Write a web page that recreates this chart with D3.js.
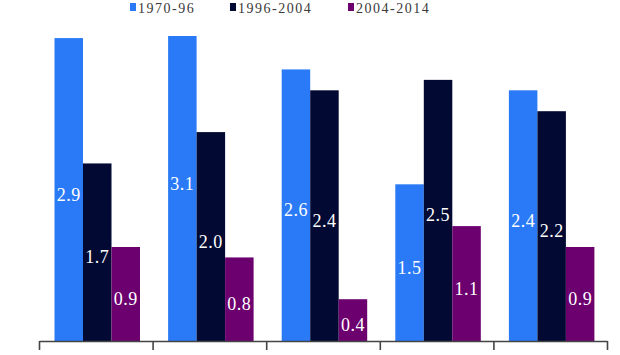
<!DOCTYPE html>
<html><head><meta charset="utf-8">
<script src="https://cdn.jsdelivr.net/npm/d3@7"></script>
<style>body{margin:0;background:#fff}svg{display:block}</style>
</head><body>
<svg id="c" width="620" height="355"></svg>
<script>
const categories = ["G1","G2","G3","G4","G5"];
const seriesNames = ["1970-96","1996-2004","2004-2014"];
const s1970_96 = [2.9, 3.1, 2.6, 1.5, 2.4];
const s1996_2004 = [1.7, 2.0, 2.4, 2.5, 2.2];
const s2004_2014 = [0.9, 0.8, 0.4, 1.1, 0.9];
const colors = ["#2a7af7", "#020a33", "#6c006f"];

const seriesVals = [s1970_96, s1996_2004, s2004_2014];
const data = categories.map((c, i) => ({cat: c, vals: seriesNames.map((s, j) => ({s, j, v: seriesVals[j][i]}))}));

const svg = d3.select("#c");
const x0 = d3.scaleBand().domain(categories).range([39, 607]).paddingInner(0).paddingOuter(0);
const x1 = d3.scaleBand().domain(seriesNames).range([15.5, 15.5 + 85.5]);
const y = d3.scaleLinear().domain([0, 2.92]).range([341, 36]).clamp(true);
const yLab = y.copy().clamp(false);

const g = svg.selectAll("g.grp").data(data).join("g")
  .attr("transform", d => `translate(${x0(d.cat)},0)`);
g.selectAll("rect").data(d => d.vals).join("rect")
  .attr("x", d => x1(d.s)).attr("width", x1.bandwidth())
  .attr("y", d => y(d.v)).attr("height", d => y(0) - y(d.v))
  .attr("fill", d => colors[d.j]);
g.selectAll("text").data(d => d.vals).join("text")
  .attr("x", d => x1(d.s) + x1.bandwidth() / 2)
  .attr("y", d => (yLab(d.v) + yLab(0)) / 2 + 11)
  .attr("text-anchor", "middle")
  .attr("fill", "#fff")
  .attr("font-family", "Liberation Serif, Times New Roman, serif")
  .attr("font-size", 18)
  .attr("letter-spacing", "0.5px")
  .text(d => d3.format(".1f")(d.v));

// axis
const xi = d3.scaleLinear().domain([0, categories.length]).range([39, 607]);
const ax = svg.append("g").attr("transform", "translate(0,341)")
  .call(d3.axisBottom(xi).tickValues(d3.range(categories.length + 1)).tickFormat("").tickSize(9).tickSizeOuter(0));
ax.selectAll("path,line").attr("stroke", "#444").attr("stroke-width", 1.6);

// legend
const legX = [130, 230, 348];
const leg = svg.selectAll("g.leg").data(seriesNames).join("g")
  .attr("transform", (d, i) => `translate(${legX[i]},0)`);
leg.append("rect").attr("x", 0).attr("y", 3).attr("width", 6).attr("height", 8)
  .attr("fill", (d, i) => colors[i]);
leg.append("text").attr("x", 8).attr("y", 13)
  .attr("font-family", "Liberation Serif, Times New Roman, serif")
  .attr("font-size", 14).attr("letter-spacing", "1.5px")
  .attr("fill", "#3a3a3a").text(d => d);
</script>
</body></html>
